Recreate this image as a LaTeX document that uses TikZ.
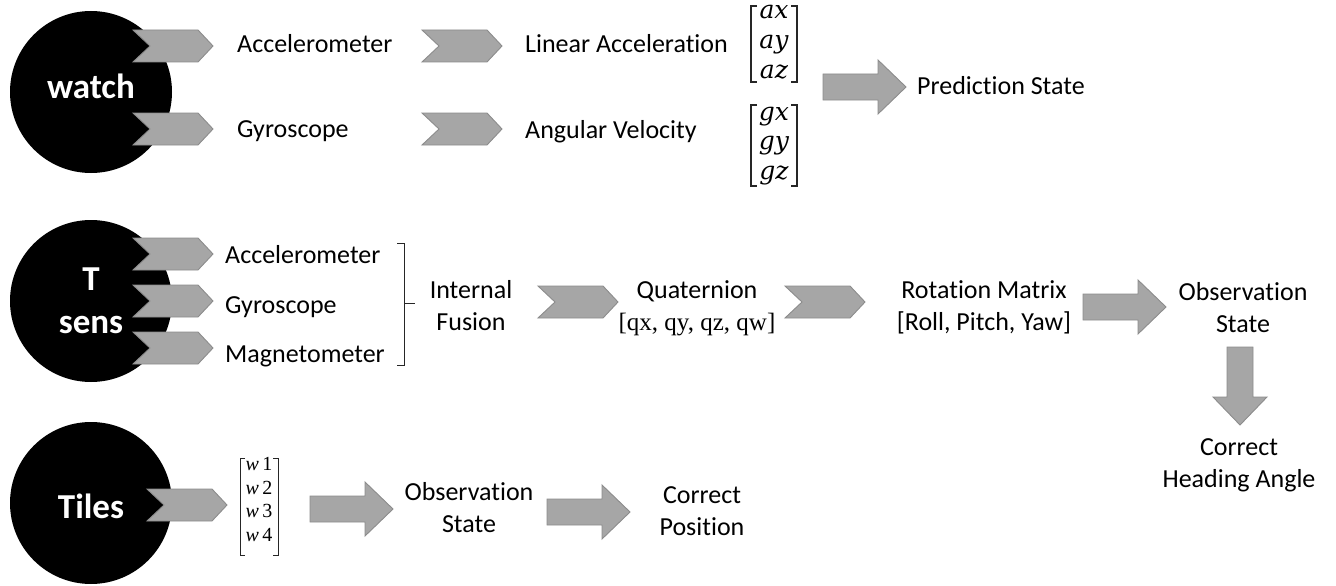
\documentclass[tikz,border=0pt]{standalone}
\usepackage{amsmath}
\usepackage{fontspec}
\setmainfont{Carlito}[Ligatures=NoCommon]
\newfontfamily\serifface{Liberation Serif}
\newfontfamily\mathface{DejaVu Serif}
\definecolor{blkfill}{HTML}{A6A6A6}
\definecolor{blkedge}{HTML}{8C8C8C}
% notched chevron: left x, middle y
\newcommand{\chevshape}[2]{%
  \draw[blk] (#1,#2-16) -- (#1+65,#2-16) -- (#1+80,#2) -- (#1+65,#2+16)
    -- (#1,#2+16) -- (#1+17,#2) -- cycle;}
% block arrow pointing right: left x, middle y
\newcommand{\blockarrow}[2]{%
  \draw[blk] (#1,#2-13) -- (#1+55,#2-13) -- (#1+55,#2-27) -- (#1+83,#2)
    -- (#1+55,#2+27) -- (#1+55,#2+13) -- (#1,#2+13) -- cycle;}
% square brackets: style, left x, right x, top y, bottom y, serif length
\newcommand{\sqbrackets}[6]{%
  \draw[#1] (#2+#6,#4) -- (#2,#4) -- (#2,#5) -- (#2+#6,#5);
  \draw[#1] (#3-#6,#4) -- (#3,#4) -- (#3,#5) -- (#3-#6,#5);}
\begin{document}
\begin{tikzpicture}[x=1pt,y=-1pt,
  blk/.style={fill=blkfill, draw=blkedge, line width=0.9pt, line join=miter},
  lbl/.style={inner sep=0pt, font=\fontsize{26}{32}\selectfont, align=center},
  dev/.style={circle, fill=black, minimum size=162pt, inner sep=0pt},
  devtxt/.style={inner sep=0pt, text=white, font=\fontsize{35}{43}\selectfont\bfseries, align=center},
  vec/.style={inner sep=0pt, font=\mathface\itshape\fontsize{25}{29.5}\selectfont, align=center},
  brk/.style={draw=black!85, line width=1.6pt},
  thinbrk/.style={draw=black!85, line width=0.8pt}]
\useasboundingbox (0,0) rectangle (1336,586);

% ---------- watch ----------
\node[dev] (watch) at (91,92) {};
\node[devtxt, anchor=base] (watchtxt) at (91,99) {watch};
\chevshape{133}{46}
\chevshape{133}{129}
\node[lbl, anchor=base west] (acc1) at (237,53) {Accelerometer};
\node[lbl, anchor=base west] (gyr1) at (237,137) {Gyroscope};
\chevshape{422}{46}
\chevshape{422}{129}
\node[lbl, anchor=base west] (linacc) at (525,53) {Linear Acceleration};
\node[lbl, anchor=base west] (angvel) at (525,138) {Angular Velocity};
\node[vec, anchor=base] (avec) at (774,78) {ax\\ay\\az};
\sqbrackets{brk}{751}{797}{6}{82}{6}
\node[vec, anchor=base] (gvec) at (774,179) {gx\\gy\\gz};
\sqbrackets{brk}{751}{797}{105}{186}{6}
\blockarrow{823}{87}
\node[lbl, anchor=base west] (pred) at (917,95) {Prediction State};

% ---------- T sens ----------
\node[dev] (tsens) at (91,301) {};
\node[devtxt, anchor=base] (tsenstxt) at (91,333) {T\\sens};
\chevshape{133}{254}
\chevshape{133}{301}
\chevshape{133}{348}
\node[lbl, anchor=base west] (acc2) at (225,263) {Accelerometer};
\node[lbl, anchor=base west] (gyr2) at (225,313) {Gyroscope};
\node[lbl, anchor=base west] (mag2) at (225,362) {Magnetometer};
\coordinate (brtop) at (404,243);
\coordinate (brbot) at (404,365);
\coordinate (brmid) at (404,303);
\draw[thinbrk, line width=1pt] ([xshift=-7pt]brtop) -- (brtop) -- (brbot) -- ([xshift=-7pt]brbot);
\draw[thinbrk, line width=1pt] (brmid) -- ([xshift=11pt]brmid);
\node[lbl, anchor=base] (fusion) at (471,330) {Internal\\Fusion};
\chevshape{538}{302}
\node[lbl, anchor=base] (quat) at (697,330)
  {Quaternion\\{\serifface\fontsize{25}{32}\selectfont [qx, qy, qz, qw]}};
\chevshape{785}{302}
\node[lbl, anchor=base] (rot) at (984,330) {Rotation Matrix\\{}[Roll, Pitch, Yaw]};
\blockarrow{1083}{307}
\node[lbl, anchor=base] (obs1) at (1243,332) {Observation\\State};
\draw[blk] (1227,347) -- (1253,347) -- (1253,397) -- (1267,397) -- (1240,425)
  -- (1213,397) -- (1227,397) -- cycle;
\node[lbl, anchor=base] (heading) at (1239,487) {Correct\\Heading Angle};

% ---------- Tiles ----------
\node[dev] (tiles) at (91,503) {};
\node[devtxt, anchor=base] (tilestxt) at (91,518) {Tiles};
\chevshape{147}{505}
\node[inner sep=0pt, anchor=base, align=center,
      font=\serifface\fontsize{20}{23.5}\selectfont] (wvec) at (259,541)
  {\textit{w}\,1\\\textit{w}\,2\\\textit{w}\,3\\\textit{w}\,4};
\sqbrackets{thinbrk}{240}{278}{458}{555}{5}
\blockarrow{310}{509}
\node[lbl, anchor=base] (obs2) at (469,532) {Observation\\State};
\blockarrow{547}{512}
\node[lbl, anchor=base] (pos) at (702,535) {Correct\\Position};
\end{tikzpicture}
\end{document}
